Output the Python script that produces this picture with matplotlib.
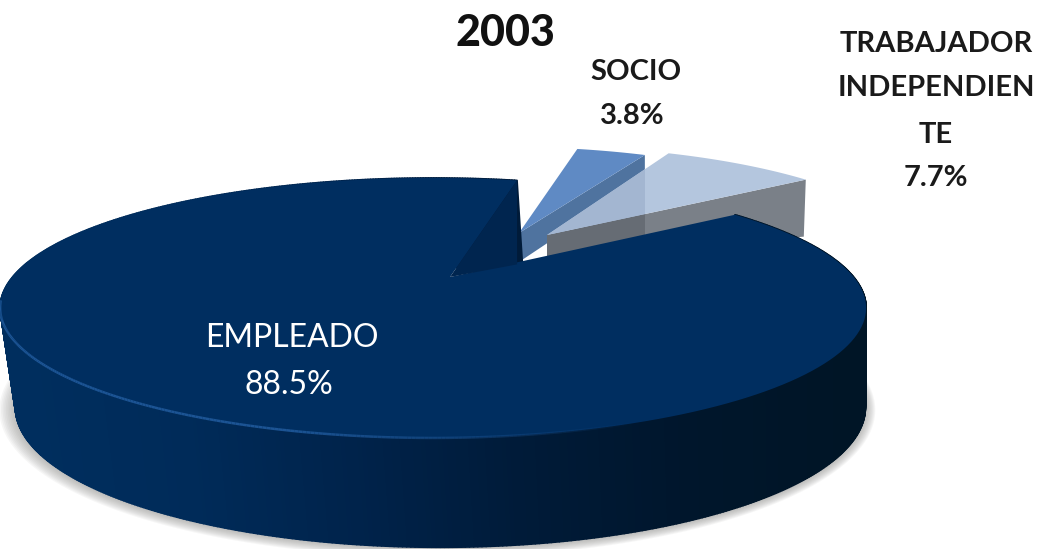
import numpy as np
from matplotlib import pyplot as plt
from matplotlib.collections import LineCollection, PolyCollection
from matplotlib.colors import LinearSegmentedColormap

categories = ["SOCIO", "TRABAJADOR\nINDEPENDIEN\nTE", "EMPLEADO"]
shares = [3.8, 7.7, 88.5]
year_label = "2003"

START_ANGLE = 78.3
# where the pie's centre falls inside its rim ellipse, in rim units
APEX = np.array([0.039, 0.238])


def project(theta, radius, ox, oy, a=433.0, b=130.0):
    # perspective view of a disc: rim stays an upright ellipse, centre lands on (ox, oy)
    s = np.hypot(*APEX)
    hat = APEX / s
    gamma = 1 / np.sqrt(1 - s * s)
    qx, qy = np.cos(theta), np.sin(theta)
    par = qx * hat[0] + qy * hat[1]
    px = (qx - par * hat[0]) / gamma + (par + s) * hat[0]
    py = (qy - par * hat[1]) / gamma + (par + s) * hat[1]
    w = 1 + s * par
    px, py = px / w, py / w
    return ox + radius * a * (px - APEX[0]), oy - radius * b * (py - APEX[1])


def slice_angles():
    bounds = []
    start = START_ANGLE
    for share in shares:
        end = start - share * 3.6
        bounds.append((np.radians(start), np.radians(end)))
        start = end
    return bounds


def top_face(ax, t0, t1, radius, ox, oy, color, zorder):
    thetas = np.linspace(t0, t1, 200)
    x, y = project(thetas, radius, ox, oy)
    patch = ax.fill(np.r_[ox, x], np.r_[oy, y], color=color, lw=0, zorder=zorder)[0]
    return patch


plt.rcParams["font.family"] = ["Lato", "DejaVu Sans"]
fig = plt.figure(figsize=(10.49, 5.49), dpi=100)
ax = fig.add_axes([0, 0, 1, 1])
ax.set_xlim(0, 1049)
ax.set_ylim(549, 0)
ax.axis("off")

bounds = slice_angles()

# soft shadow under the pie
for grow in np.linspace(13, 1, 10):
    t = np.linspace(np.pi * 0.95, np.pi * 2.05, 200)
    sx, sy = project(t, 1.0, 457, 374, 425 + grow, 140 + grow * 0.55)
    ax.fill(sx - grow * 0.2, sy + 1, color="#8a8a86", alpha=0.07, lw=0, zorder=1)

# SOCIO, pulled out of the pie
t0, t1 = bounds[0]
x, y = project(t1, 0.87, 519, 233)
ax.fill([519, x, x, 519], [233, y, y + 23, 262], color="#4F739F", lw=0, zorder=2)
top_face(ax, t0, t1, 0.87, 519, 233, "#5F8AC4", 3)

# TRABAJADOR, sits in front of SOCIO and lets it show through
t0, t1 = bounds[1]
t0, t1 = t0 + 0.03, t1 - 0.01
x, y = project(t1, 0.9, 547, 235)
ax.fill([547, x, x - 2, 547], [235, y, y + 57, 258], color="#7A8088", lw=0, zorder=4)
ax.fill([547, 645, 645, 547], [258 - 23, 258 - 45, 258 + 8, 258 + 25],
        color="#666C74", lw=0, zorder=4.5)
top_face(ax, t0, t1, 0.9, 547, 235, "#B4C6DE", 5)
tface = top_face(ax, t0, t1, 0.9, 547, 235, "none", 6)
overlap = ax.axvspan(500, 645, color="#A3B6D1", lw=0, zorder=6)
overlap.set_clip_path(tface)

# EMPLEADO wall, coloured along its length
t0, t1 = bounds[2]
thetas = np.linspace(t0, t1, 720)
tx, ty = project(thetas, 1.0, 450, 277)
bx, by = project(thetas, 1.0, 457, 374, 425, 140)
quads = [[(tx[i], ty[i]), (tx[i + 1], ty[i + 1]), (bx[i + 1], by[i + 1]), (bx[i], by[i])]
         for i in range(len(thetas) - 1)]
wall_cmap = LinearSegmentedColormap.from_list(
    "wall", ["#002E5E", "#002B59", "#00234B", "#001B39", "#00162C", "#001526"])
wall_colors = wall_cmap(np.clip((tx[:-1] - 20) / 830, 0, 1))
ax.add_collection(PolyCollection(quads, facecolors=wall_colors, edgecolors=wall_colors,
                                 linewidths=1.2, zorder=7))

# main face and the cut side behind the missing slices
top_face(ax, t0, t1, 1.0, 450, 277, "#002E60", 8)
sx, sy = project(t1, 1.0, 450, 277)
ax.fill([450, sx, sx, 450], [277, sy, sy + 84, 277], color="#00254F", lw=0, zorder=9)

# thin bright bevel on the front rim, fades out to the right
mask = (tx < 640) & (ty > 300)
pts = np.column_stack([tx[mask], ty[mask]])
segs = np.stack([pts[:-1], pts[1:]], axis=1)
fade = np.clip((640 - pts[:-1, 0]) / 350, 0, 1)
rgba = np.zeros((len(segs), 4))
rgba[:, :3] = (0.11, 0.33, 0.58)
rgba[:, 3] = fade
ax.add_collection(LineCollection(segs, colors=rgba, linewidths=1.8, zorder=10))

ax.text(505, 33, year_label, fontsize=31, fontweight="black", color="#111111",
        ha="center", va="center", zorder=11)
ax.text(636, 72, categories[0], fontsize=21, fontweight="bold", color="#1a1a1a",
        ha="center", va="center", zorder=11)
ax.text(632, 116, f"{shares[0]}%", fontsize=21, fontweight="bold", color="#1a1a1a",
        ha="center", va="center", zorder=11)
for line, ypos in zip(categories[1].split("\n"), [44, 88, 135]):
    ax.text(936, ypos, line, fontsize=21, fontweight="bold", color="#1a1a1a",
            ha="center", va="center", zorder=11)
ax.text(936, 178, f"{shares[1]}%", fontsize=21, fontweight="bold", color="#1a1a1a",
        ha="center", va="center", zorder=11)
ax.text(292, 338, categories[2], fontsize=23, color="#ffffff",
        ha="center", va="center", zorder=11)
ax.text(289, 385, f"{shares[2]}%", fontsize=23, color="#ffffff",
        ha="center", va="center", zorder=11)

fig.savefig("out.png", dpi=100)
